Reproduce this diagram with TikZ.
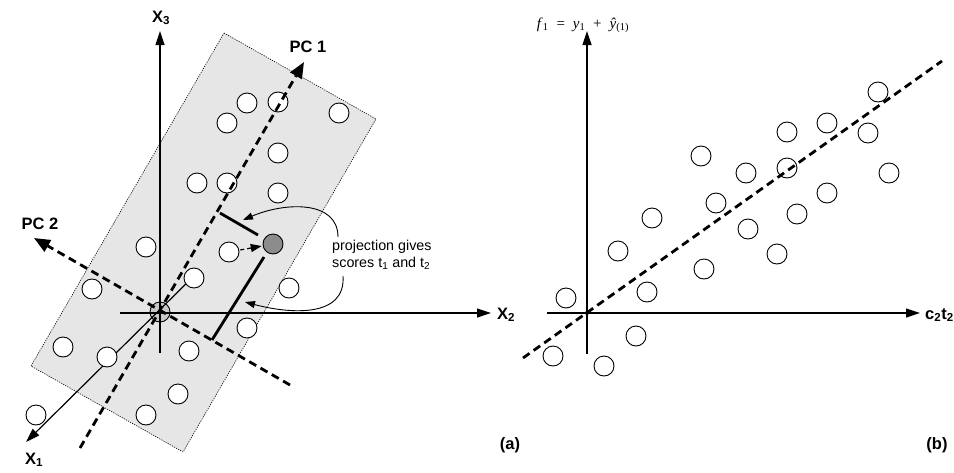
\documentclass[tikz,border=0pt]{standalone}
\usepackage{fontspec}
\setmainfont{Liberation Sans}
\newfontfamily\tnr{Liberation Serif}
\usetikzlibrary{arrows.meta}
\definecolor{planegray}{RGB}{230,230,230}
\definecolor{origgray}{RGB}{200,200,200}
\definecolor{ptgray}{RGB}{140,140,140}
\begin{document}
\begin{tikzpicture}[x=1pt,y=-1pt,
  axis/.style={line width=1.2pt,-{Triangle[length=14pt,width=9pt]}},
  pcline/.style={line width=2.8pt,dash pattern=on 8pt off 5pt},
  pcarrow/.style={pcline,-{Triangle[length=16pt,width=13pt]}},
  pt/.style={circle,draw,fill=white,minimum size=20pt,inner sep=0pt,line width=0.9pt},
  lab/.style={font=\fontsize{16.5}{18}\selectfont\bfseries,inner sep=0pt},
  projline/.style={line width=2.8pt},
  curvearrow/.style={line width=0.9pt,-{Triangle[length=10pt,width=7pt]}},
  smalldash/.style={line width=1.2pt,dash pattern=on 4pt off 3pt,-{Triangle[length=11pt,width=8pt]}}
]
\path[use as bounding box] (0,0) rectangle (954,472);

% ---------------- panel (a) ----------------
\coordinate (rt) at (224,33);
\coordinate (rr) at (376,119);
\coordinate (rb) at (183,452);
\coordinate (rl) at (31,366);
\fill[planegray] (rt) -- (rr) -- (rb) -- (rl) -- cycle;
\draw[line width=0.6pt,dash pattern=on 1.2pt off 1.2pt] (rt) -- (rr) -- (rb) -- (rl) -- cycle;

\node[pt,fill=origgray] (O) at (160,312) {};

\coordinate (x3b) at (160,353);
\coordinate (x3t) at (160,31);
\coordinate (x2l) at (120,313);
\coordinate (x2r) at (491,313);
\coordinate (x1e) at (200,270);
\coordinate (x1t) at (26,442);
\draw[axis] (x3b) -- (x3t);
\draw[axis] (x2l) -- (x2r);
\draw[axis] (x1e) -- (x1t);
\node[lab] (X3) at (161,18) {X\textsubscript{3}};
\node[lab,anchor=west] (X2) at (497,315) {X\textsubscript{2}};
\node[lab] (X1) at (34,460) {X\textsubscript{1}};

% data points
\foreach \n/\x/\y in {1/247/103,2/278/102,3/227/123,4/339/113,5/278/153,6/197/183,7/227/183,
  8/278/193,9/146/247,10/229/252,11/194/278,12/92/289,13/289/288,14/247/328,15/63/347,
  16/107/357,17/189/351,18/178/394,19/146/415,20/36/415}
  \node[pt] (l\n) at (\x,\y) {};

% principal components
\coordinate (pc1s) at (80,448);
\coordinate (pc1e) at (304,62);
\coordinate (pc2s) at (290,385);
\coordinate (pc2e) at (34,238);
\draw[pcarrow] (pc1s) -- (pc1e);
\draw[pcarrow] (pc2s) -- (pc2e);
\node[lab] (PC1) at (308,47) {PC 1};
\node[lab] (PC2) at (40,224) {PC 2};

% projected point
\node[pt,fill=ptgray] (G) at (273,244) {};
\coordinate (f1) at (220,213);
\coordinate (g1) at (258,235);
\coordinate (g2) at (264,257);
\coordinate (f2) at (212,340);
\draw[projline] (g1) -- (f1);
\draw[projline] (g2) -- (f2);
\draw[smalldash,shorten <=1pt,shorten >=1pt] (l10) -- (G);

\node[anchor=west,align=left,font=\fontsize{14.3}{17}\selectfont,inner sep=0pt] (txt) at (332,255)
  {projection gives\\scores t\textsubscript{1} and t\textsubscript{2}};
\coordinate (c1s) at (338,237);
\coordinate (c1e) at (243,220);
\coordinate (c2s) at (343,276);
\coordinate (c2e) at (245,302);
\draw[curvearrow] (c1s) .. controls (338,200) and (285,202) .. (c1e);
\draw[curvearrow] (c2s) .. controls (346,318) and (290,314) .. (c2e);

\node[lab] (a) at (510,445) {(a)};

% ---------------- panel (b) ----------------
\coordinate (yb) at (587,354);
\coordinate (yt) at (587,31);
\coordinate (xl) at (547,313);
\coordinate (xr) at (920,313);
\draw[axis] (yb) -- (yt);
\draw[axis] (xl) -- (xr);
\node[font=\tnr\fontsize{15}{17}\selectfont,inner sep=0pt] (F) at (583,25)
  {\textit{f}\textsubscript{1} \;=\; \textit{y}\textsubscript{1} \;+\; \textit{ŷ}\textsubscript{(1)}};
\node[lab,anchor=west] (C) at (925,315) {c\textsubscript{2}t\textsubscript{2}};

\foreach \n/\x/\y in {1/878/92,2/827/123,3/787/132,4/868/133,5/701/156,6/746/173,7/787/168,
  8/889/173,9/827/193,10/716/203,11/797/214,12/652/218,13/748/229,14/618/251,15/777/254,
  16/704/269,17/647/292,18/566/298,19/636/336,20/553/356,21/604/366}
  \node[pt] (r\n) at (\x,\y) {};

\coordinate (ds) at (523,358);
\coordinate (de) at (942,61);
\draw[pcline] (ds) -- (de);
\fill (587,313) circle (2pt);

\node[lab] (b) at (937,445) {(b)};
\end{tikzpicture}
\end{document}
